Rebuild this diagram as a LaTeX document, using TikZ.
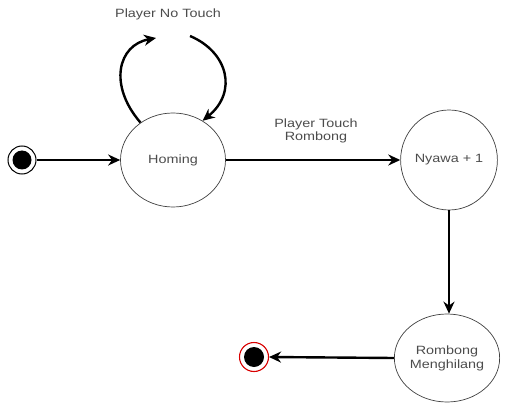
\documentclass[tikz,border=0pt]{standalone}
\usepackage{fontspec}
\setmainfont{Liberation Sans}[FakeStretch=1.2]
\usetikzlibrary{arrows.meta,shapes.geometric}
\begin{document}
\begin{tikzpicture}[x=1pt,y=-1pt,
  statebox/.style={ellipse, draw=black!75, line width=0.7pt, text=black!70,
    font=\fontsize{12}{14}\selectfont, align=center, inner sep=0pt},
  lbl/.style={text=black!70, font=\fontsize{12}{13.5}\selectfont, align=center, inner sep=0pt},
  arr/.style={-{Stealth[length=12pt,width=11pt]}, line width=2.4pt, black}]
\useasboundingbox (0,0) rectangle (510,403);
\node[statebox, minimum width=105pt, minimum height=94pt] (home) at (173,160) {Homing};
\node[statebox, minimum width=86pt, minimum height=100pt] (ny) at (449,160) {Nyawa + 1};
\node[statebox, minimum width=97pt, minimum height=88pt] (rm) at (447,358) {Rombong\\Menghilang};
\node[circle, draw=black, line width=1pt, fill=white, minimum size=28pt, inner sep=0pt] (start) at (22,160) {};
\fill[black] (start.center) circle (9.5pt);
\node[circle, draw=red!85!black, line width=1.1pt, fill=white, minimum size=29pt, inner sep=0pt] (end) at (254,357) {};
\fill[black] (end.center) circle (10pt);
\node[lbl] (nt) at (168,14) {Player No Touch};
\node[lbl] (pt) at (316,131) {Player Touch\\Rombong};
\coordinate (la) at (156,38);
\coordinate (ra) at (190,36);
\draw[arr] (start.east) -- (home.west);
\draw[arr] (home.east) -- (ny.west);
\draw[arr] (ny.south) -- (ny.south |- rm.north);
\draw[arr] (rm.west) -- (end.east);
\draw[arr] (home.131) .. controls (108,85) and (118,45) .. (la);
\draw[arr] (ra) .. controls (228,52) and (238,92) .. (home.53);
\end{tikzpicture}
\end{document}
